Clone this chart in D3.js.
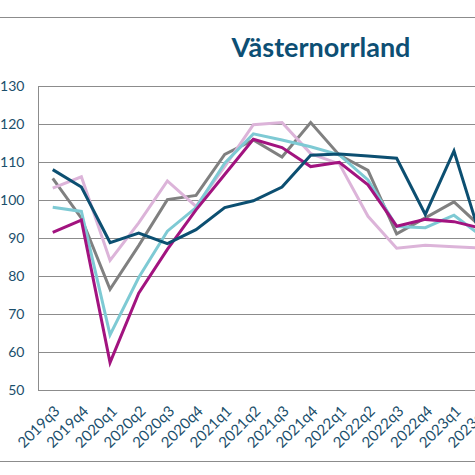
<!DOCTYPE html>
<html>
<head>
<meta charset="utf-8">
<script src="https://cdn.jsdelivr.net/npm/d3@7"></script>
<style>
	body { margin: 0; background: #fff; }
	svg { display: block; font-family: Lato, "Open Sans", sans-serif; }
</style>
</head>
<body>
<script>
	// quarters shown on the x axis (the chart is cut off at the right)
	var quarters = ['2019q3', '2019q4', '2020q1', '2020q2', '2020q3', '2020q4',
		'2021q1', '2021q2', '2021q3', '2021q4', '2022q1', '2022q2',
		'2022q3', '2022q4', '2023q1', '2023q2'];

	var yTicks = [50, 60, 70, 80, 90, 100, 110, 120, 130];

	var navySeries = [108, 103.4, 88.8, 91.3, 88.5, 92.2, 98, 99.8, 103.4, 111.8, 112.1, 111.6, 111, 96.2, 112.9, 88.5];
	var magentaSeries = [91.5, 94.7, 57.2, 75.5, 87, 97.4, 106.7, 116, 113.8, 108.8, 109.9, 104, 93.1, 94.9, 94.3, 92.5];
	var cyanSeries = [98.1, 97, 64.5, 79.6, 91.8, 98, 109.7, 117.4, 115.8, 114, 111.9, 105.3, 93, 92.7, 96, 90.3];
	var greySeries = [105.7, 95.2, 76.5, 88, 100.1, 101.2, 112, 115.8, 111.3, 120.4, 111.8, 107.8, 91.1, 95.3, 99.5, 92.5];
	var pinkSeries = [103.1, 106.1, 84.1, 94, 105, 98.3, 108.8, 119.8, 120.4, 112.2, 109.5, 95.7, 87.3, 88.1, 87.7, 87.3];

	var series = [
		{name: 'grey', values: greySeries, color: '#808080'},
		{name: 'pink', values: pinkSeries, color: '#dcb4d9'},
		{name: 'cyan', values: cyanSeries, color: '#7ecad4'},
		{name: 'magenta', values: magentaSeries, color: '#a2137f'},
		{name: 'navy', values: navySeries, color: '#0c4f71'}
	];

	var width = 475,
		height = 475,
		textColor = '#1b4f6c',
		step = 28.66,
		plotLeft = 38.4,
		plotTop = 86,
		plotBottom = 390;

	var svg = d3.select('body').append('svg')
		.attr('width', width)
		.attr('height', height);

	// outer frame lines
	svg.append('line')
		.attr('x1', 0).attr('x2', width)
		.attr('y1', 17.5).attr('y2', 17.5)
		.attr('stroke', '#8c8c8c');
	svg.append('line')
		.attr('x1', 0).attr('x2', width)
		.attr('y1', 461.5).attr('y2', 461.5)
		.attr('stroke', '#8c8c8c');

	svg.append('text')
		.attr('x', 321)
		.attr('y', 57)
		.attr('text-anchor', 'middle')
		.attr('font-size', 27)
		.attr('font-weight', 'bold')
		.attr('fill', '#0d4f74')
		.text('Västernorrland');

	var x = d3.scaleBand()
		.domain(quarters)
		.range([plotLeft, plotLeft + step * quarters.length])
		.padding(0);

	var y = d3.scaleLinear()
		.domain([50, 130])
		.range([plotBottom, plotTop]);

	function cx(d) {
		return x(d) + x.bandwidth() / 2;
	}

	// y axis with gridlines
	var yAxis = svg.append('g')
		.attr('transform', 'translate(' + plotLeft + ',0)')
		.call(d3.axisLeft(y).tickValues(yTicks).tickSize(-(width - plotLeft)).tickPadding(14));
	yAxis.select('.domain').remove();
	yAxis.selectAll('line')
		.attr('stroke', '#8c8c8c')
		.attr('shape-rendering', 'crispEdges');
	yAxis.selectAll('text')
		.attr('font-size', 14)
		.attr('font-family', 'Lato, sans-serif')
		.attr('fill', textColor);

	svg.append('line')
		.attr('x1', plotLeft).attr('x2', plotLeft)
		.attr('y1', plotTop).attr('y2', plotBottom)
		.attr('stroke', '#8c8c8c')
		.attr('shape-rendering', 'crispEdges');

	// x labels, rotated
	var xAxis = svg.append('g')
		.attr('transform', 'translate(0,' + plotBottom + ')')
		.call(d3.axisBottom(x).tickSize(0).tickPadding(0));
	xAxis.select('.domain').remove();
	xAxis.selectAll('text')
		.attr('font-size', 15)
		.attr('font-family', 'Lato, sans-serif')
		.attr('fill', textColor)
		.attr('text-anchor', 'end')
		.attr('dy', 0)
		.attr('y', 0)
		.attr('transform', 'translate(8,22) rotate(-45)');

	var line = d3.line()
		.x(function(d, i) { return cx(quarters[i]); })
		.y(function(d) { return y(d); });

	svg.append('g').selectAll('path')
		.data(series)
		.enter().append('path')
		.attr('d', function(s) { return line(s.values); })
		.attr('fill', 'none')
		.attr('stroke', function(s) { return s.color; })
		.attr('stroke-width', 3)
		.attr('stroke-linejoin', 'miter');
</script>
</body>
</html>
